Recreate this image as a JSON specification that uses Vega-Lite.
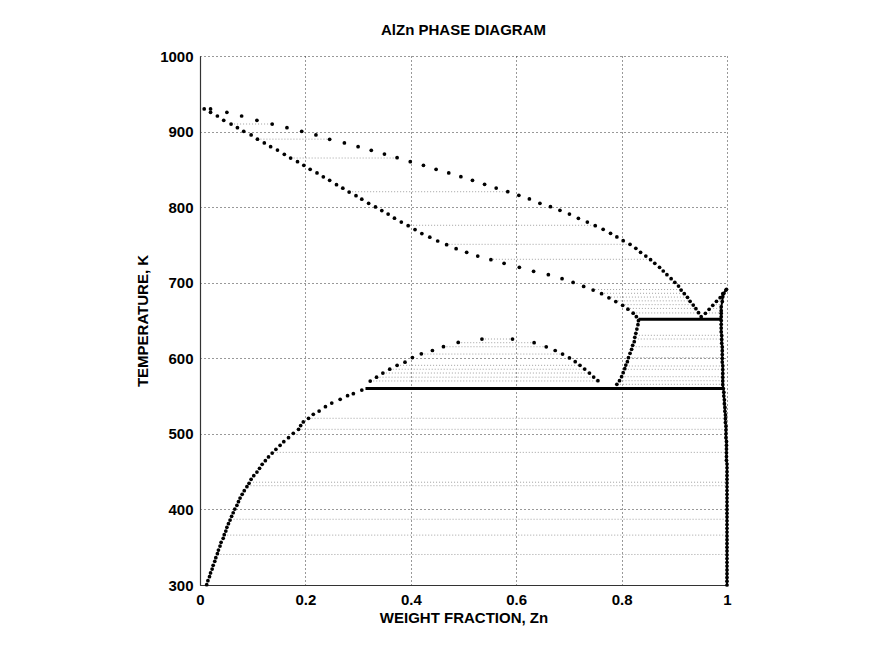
{
  "$schema": "https://vega.github.io/schema/vega-lite/v6.json",
  "width": 527,
  "height": 529,
  "autosize": {"type": "none"},
  "padding": {"left": 200, "top": 56, "right": 145, "bottom": 65},
  "background": "white",
  "title": {"text": "AlZn PHASE DIAGRAM", "font": "Liberation Sans", "fontSize": 15, "fontWeight": "bold", "anchor": "middle", "offset": 11, "color": "black"},
  "config": {
    "view": {"stroke": null},
    "axis": {
      "grid": true, "gridDash": [1, 3], "gridColor": "#333333", "gridWidth": 1, "gridOpacity": 1,
      "domainColor": "#333333", "domainWidth": 1.2, "ticks": false, "labelFlush": false,
      "labelFont": "Liberation Sans", "labelFontSize": 15, "labelFontWeight": "bold", "labelColor": "black", "labelPadding": 7,
      "titleFont": "Liberation Sans", "titleFontSize": 15, "titleFontWeight": "bold", "titleColor": "black"
    }
  },
  "datasets": {
    "pts": [
      {"c": "liq", "x": 0.008, "T": 930}, {"c": "liq", "x": 0.020, "T": 930}, {"c": "liq", "x": 0.051, "T": 925.5}, {"c": "liq", "x": 0.079, "T": 920.6},
      {"c": "liq", "x": 0.108, "T": 914.9}, {"c": "liq", "x": 0.137, "T": 910.0}, {"c": "liq", "x": 0.165, "T": 905.1}, {"c": "liq", "x": 0.193, "T": 900.4},
      {"c": "liq", "x": 0.220, "T": 895.5}, {"c": "liq", "x": 0.246, "T": 889.8}, {"c": "liq", "x": 0.274, "T": 884.9}, {"c": "liq", "x": 0.300, "T": 880.0},
      {"c": "liq", "x": 0.325, "T": 875.2}, {"c": "liq", "x": 0.350, "T": 870.3}, {"c": "liq", "x": 0.374, "T": 865.4}, {"c": "liq", "x": 0.399, "T": 860.1},
      {"c": "liq", "x": 0.424, "T": 855.4}, {"c": "liq", "x": 0.448, "T": 850.1}, {"c": "liq", "x": 0.472, "T": 845.2}, {"c": "liq", "x": 0.495, "T": 840.3},
      {"c": "liq", "x": 0.517, "T": 835.5}, {"c": "liq", "x": 0.540, "T": 830.2}, {"c": "liq", "x": 0.562, "T": 825.3}, {"c": "liq", "x": 0.584, "T": 820.4},
      {"c": "liq", "x": 0.605, "T": 815.7}, {"c": "liq", "x": 0.625, "T": 810.8}, {"c": "liq", "x": 0.645, "T": 805.1}, {"c": "liq", "x": 0.665, "T": 800.6},
      {"c": "liq", "x": 0.683, "T": 795.8}, {"c": "liq", "x": 0.701, "T": 790.9}, {"c": "liq", "x": 0.718, "T": 785.2}, {"c": "liq", "x": 0.735, "T": 780.3},
      {"c": "liq", "x": 0.750, "T": 775.4}, {"c": "liq", "x": 0.765, "T": 770.7}, {"c": "liq", "x": 0.779, "T": 765.4}, {"c": "liq", "x": 0.791, "T": 760.5},
      {"c": "liq", "x": 0.803, "T": 755.6}, {"c": "liq", "x": 0.816, "T": 750.8}, {"c": "liq", "x": 0.827, "T": 745.5}, {"c": "liq", "x": 0.836, "T": 740.2},
      {"c": "liq", "x": 0.846, "T": 735.3}, {"c": "liq", "x": 0.855, "T": 730.4}, {"c": "liq", "x": 0.863, "T": 725.7}, {"c": "liq", "x": 0.872, "T": 720.4},
      {"c": "liq", "x": 0.879, "T": 715.5}, {"c": "liq", "x": 0.886, "T": 710.6}, {"c": "liq", "x": 0.894, "T": 705.3}, {"c": "liq", "x": 0.901, "T": 700.5},
      {"c": "liq", "x": 0.908, "T": 695.6}, {"c": "liq", "x": 0.913, "T": 690.3}, {"c": "liq", "x": 0.919, "T": 685.5}, {"c": "liq", "x": 0.925, "T": 680.7},
      {"c": "liq", "x": 0.930, "T": 675.4}, {"c": "liq", "x": 0.936, "T": 670.5}, {"c": "liq", "x": 0.941, "T": 665.6}, {"c": "liq", "x": 0.946, "T": 660.3},
      {"c": "liq", "x": 0.951, "T": 655.0},
      {"c": "znliq", "x": 0.959, "T": 659.5}, {"c": "znliq", "x": 0.966, "T": 664.8}, {"c": "znliq", "x": 0.973, "T": 670.1}, {"c": "znliq", "x": 0.980, "T": 675.4},
      {"c": "znliq", "x": 0.987, "T": 680.2}, {"c": "znliq", "x": 0.992, "T": 685.5}, {"c": "znliq", "x": 0.998, "T": 690.3},
      {"c": "sol", "x": 0.020, "T": 925.5}, {"c": "sol", "x": 0.033, "T": 920.6}, {"c": "sol", "x": 0.045, "T": 914.9}, {"c": "sol", "x": 0.059, "T": 910.0},
      {"c": "sol", "x": 0.071, "T": 905.1}, {"c": "sol", "x": 0.083, "T": 900.4}, {"c": "sol", "x": 0.097, "T": 895.5}, {"c": "sol", "x": 0.109, "T": 889.9},
      {"c": "sol", "x": 0.122, "T": 884.9}, {"c": "sol", "x": 0.134, "T": 880.0}, {"c": "sol", "x": 0.147, "T": 875.6}, {"c": "sol", "x": 0.160, "T": 869.9},
      {"c": "sol", "x": 0.172, "T": 865.0}, {"c": "sol", "x": 0.185, "T": 860.1}, {"c": "sol", "x": 0.197, "T": 855.4}, {"c": "sol", "x": 0.209, "T": 850.1},
      {"c": "sol", "x": 0.222, "T": 845.2}, {"c": "sol", "x": 0.234, "T": 840.1}, {"c": "sol", "x": 0.246, "T": 835.5}, {"c": "sol", "x": 0.259, "T": 829.7},
      {"c": "sol", "x": 0.271, "T": 825.1}, {"c": "sol", "x": 0.283, "T": 820.0}, {"c": "sol", "x": 0.296, "T": 815.1}, {"c": "sol", "x": 0.307, "T": 810.5},
      {"c": "sol", "x": 0.320, "T": 805.1}, {"c": "sol", "x": 0.333, "T": 800.2}, {"c": "sol", "x": 0.345, "T": 795.5}, {"c": "sol", "x": 0.357, "T": 790.9},
      {"c": "sol", "x": 0.369, "T": 785.4}, {"c": "sol", "x": 0.382, "T": 780.3}, {"c": "sol", "x": 0.395, "T": 775.4}, {"c": "sol", "x": 0.408, "T": 770.4},
      {"c": "sol", "x": 0.421, "T": 765.1}, {"c": "sol", "x": 0.436, "T": 760.2}, {"c": "sol", "x": 0.451, "T": 755.2}, {"c": "sol", "x": 0.468, "T": 750.3},
      {"c": "sol", "x": 0.486, "T": 745.0}, {"c": "sol", "x": 0.506, "T": 740.2}, {"c": "sol", "x": 0.527, "T": 735.3}, {"c": "sol", "x": 0.552, "T": 730.4},
      {"c": "sol", "x": 0.577, "T": 725.7}, {"c": "sol", "x": 0.606, "T": 720.4}, {"c": "sol", "x": 0.633, "T": 715.1}, {"c": "sol", "x": 0.661, "T": 710.6},
      {"c": "sol", "x": 0.687, "T": 705.3}, {"c": "sol", "x": 0.708, "T": 700.3}, {"c": "sol", "x": 0.728, "T": 695.0}, {"c": "sol", "x": 0.746, "T": 690.3},
      {"c": "sol", "x": 0.762, "T": 685.5}, {"c": "sol", "x": 0.776, "T": 680.0}, {"c": "sol", "x": 0.789, "T": 675.1}, {"c": "sol", "x": 0.802, "T": 670.1},
      {"c": "sol", "x": 0.812, "T": 664.9}, {"c": "sol", "x": 0.822, "T": 659.6}, {"c": "sol", "x": 0.828, "T": 655.0},
      {"c": "eps", "x": 0.832, "T": 649.7}, {"c": "eps", "x": 0.831, "T": 644.4}, {"c": "eps", "x": 0.829, "T": 638.7}, {"c": "eps", "x": 0.827, "T": 633.1},
      {"c": "eps", "x": 0.825, "T": 627.8}, {"c": "eps", "x": 0.824, "T": 621.9}, {"c": "eps", "x": 0.821, "T": 617.2}, {"c": "eps", "x": 0.819, "T": 611.9},
      {"c": "eps", "x": 0.816, "T": 606.6}, {"c": "eps", "x": 0.813, "T": 600.8}, {"c": "eps", "x": 0.811, "T": 595.5}, {"c": "eps", "x": 0.808, "T": 591.1},
      {"c": "eps", "x": 0.806, "T": 586.2}, {"c": "eps", "x": 0.803, "T": 580.9}, {"c": "eps", "x": 0.800, "T": 575.6}, {"c": "eps", "x": 0.796, "T": 570.3},
      {"c": "eps", "x": 0.791, "T": 565.6},
      {"c": "dome", "x": 0.323, "T": 569.9}, {"c": "dome", "x": 0.335, "T": 575.0}, {"c": "dome", "x": 0.347, "T": 580.5}, {"c": "dome", "x": 0.360, "T": 585.6},
      {"c": "dome", "x": 0.374, "T": 590.7}, {"c": "dome", "x": 0.389, "T": 594.8}, {"c": "dome", "x": 0.403, "T": 601.0}, {"c": "dome", "x": 0.420, "T": 605.9},
      {"c": "dome", "x": 0.441, "T": 610.3}, {"c": "dome", "x": 0.462, "T": 615.3}, {"c": "dome", "x": 0.490, "T": 620.9}, {"c": "dome", "x": 0.535, "T": 625.5},
      {"c": "dome", "x": 0.593, "T": 625.5}, {"c": "dome", "x": 0.634, "T": 620.6}, {"c": "dome", "x": 0.657, "T": 615.2}, {"c": "dome", "x": 0.674, "T": 610.3},
      {"c": "dome", "x": 0.688, "T": 605.6}, {"c": "dome", "x": 0.701, "T": 600.4}, {"c": "dome", "x": 0.712, "T": 595.5}, {"c": "dome", "x": 0.721, "T": 590.7},
      {"c": "dome", "x": 0.730, "T": 585.8}, {"c": "dome", "x": 0.739, "T": 580.5}, {"c": "dome", "x": 0.747, "T": 575.2}, {"c": "dome", "x": 0.755, "T": 570.3},
      {"c": "solv", "x": 0.0127, "T": 300.4}, {"c": "solv", "x": 0.015, "T": 305.7}, {"c": "solv", "x": 0.018, "T": 311.0}, {"c": "solv", "x": 0.020, "T": 315.9},
      {"c": "solv", "x": 0.023, "T": 321.1}, {"c": "solv", "x": 0.025, "T": 326.0}, {"c": "solv", "x": 0.028, "T": 331.3}, {"c": "solv", "x": 0.030, "T": 336.1},
      {"c": "solv", "x": 0.033, "T": 341.4}, {"c": "solv", "x": 0.035, "T": 346.3}, {"c": "solv", "x": 0.038, "T": 351.6}, {"c": "solv", "x": 0.040, "T": 356.5},
      {"c": "solv", "x": 0.044, "T": 361.8}, {"c": "solv", "x": 0.046, "T": 366.5}, {"c": "solv", "x": 0.049, "T": 371.4}, {"c": "solv", "x": 0.051, "T": 376.3},
      {"c": "solv", "x": 0.054, "T": 381.1}, {"c": "solv", "x": 0.057, "T": 386.0}, {"c": "solv", "x": 0.060, "T": 390.9}, {"c": "solv", "x": 0.063, "T": 395.6},
      {"c": "solv", "x": 0.066, "T": 400.5}, {"c": "solv", "x": 0.070, "T": 405.4}, {"c": "solv", "x": 0.073, "T": 410.2}, {"c": "solv", "x": 0.076, "T": 415.1},
      {"c": "solv", "x": 0.080, "T": 420.0}, {"c": "solv", "x": 0.084, "T": 424.8}, {"c": "solv", "x": 0.089, "T": 430.1}, {"c": "solv", "x": 0.093, "T": 434.6},
      {"c": "solv", "x": 0.097, "T": 439.9}, {"c": "solv", "x": 0.102, "T": 444.6}, {"c": "solv", "x": 0.108, "T": 449.5}, {"c": "solv", "x": 0.113, "T": 454.4},
      {"c": "solv", "x": 0.118, "T": 459.7}, {"c": "solv", "x": 0.124, "T": 464.5}, {"c": "solv", "x": 0.130, "T": 469.4}, {"c": "solv", "x": 0.137, "T": 474.6},
      {"c": "solv", "x": 0.144, "T": 479.5}, {"c": "solv", "x": 0.152, "T": 484.8}, {"c": "solv", "x": 0.159, "T": 489.7}, {"c": "solv", "x": 0.168, "T": 494.9},
      {"c": "solv", "x": 0.177, "T": 500.7}, {"c": "solv", "x": 0.187, "T": 506.0}, {"c": "solv", "x": 0.191, "T": 511.0}, {"c": "solv", "x": 0.196, "T": 515.7}, {"c": "solv", "x": 0.206, "T": 520.6},
      {"c": "solv", "x": 0.215, "T": 525.9}, {"c": "solv", "x": 0.226, "T": 530.2}, {"c": "solv", "x": 0.238, "T": 535.9}, {"c": "solv", "x": 0.250, "T": 540.8},
      {"c": "solv", "x": 0.266, "T": 545.7}, {"c": "solv", "x": 0.280, "T": 550.5}, {"c": "solv", "x": 0.291, "T": 553.1}, {"c": "solv", "x": 0.307, "T": 558.0},
      {"c": "zn", "x": 0.999, "T": 691.3}, {"c": "zn", "x": 0.994, "T": 686.0}, {"c": "zn", "x": 0.992, "T": 681.5}, {"c": "zn", "x": 0.991, "T": 675.0},
      {"c": "zn", "x": 0.989, "T": 668.2}, {"c": "zn", "x": 0.989, "T": 663.0}, {"c": "zn", "x": 0.989, "T": 659.5}, {"c": "zn", "x": 0.989, "T": 655.0},
      {"c": "zn", "x": 0.989, "T": 650}, {"c": "zn", "x": 0.989, "T": 645}, {"c": "zn", "x": 0.989, "T": 640}, {"c": "zn", "x": 0.989, "T": 635},
      {"c": "zn", "x": 0.990, "T": 630}, {"c": "zn", "x": 0.990, "T": 625}, {"c": "zn", "x": 0.990, "T": 620}, {"c": "zn", "x": 0.991, "T": 615},
      {"c": "zn", "x": 0.991, "T": 610}, {"c": "zn", "x": 0.991, "T": 605}, {"c": "zn", "x": 0.991, "T": 600}, {"c": "zn", "x": 0.991, "T": 595},
      {"c": "zn", "x": 0.992, "T": 590}, {"c": "zn", "x": 0.992, "T": 585}, {"c": "zn", "x": 0.992, "T": 580}, {"c": "zn", "x": 0.992, "T": 575},
      {"c": "zn", "x": 0.992, "T": 570}, {"c": "zn", "x": 0.992, "T": 565}, {"c": "zn", "x": 0.993, "T": 560}, {"c": "zn", "x": 0.994, "T": 555},
      {"c": "zn", "x": 0.994, "T": 550}, {"c": "zn", "x": 0.995, "T": 545}, {"c": "zn", "x": 0.995, "T": 540}, {"c": "zn", "x": 0.996, "T": 535},
      {"c": "zn", "x": 0.996, "T": 530}, {"c": "zn", "x": 0.997, "T": 525}, {"c": "zn", "x": 0.997, "T": 520}, {"c": "zn", "x": 0.997, "T": 515},
      {"c": "zn", "x": 0.998, "T": 510}, {"c": "zn", "x": 0.998, "T": 505}, {"c": "zn", "x": 0.998, "T": 500}, {"c": "zn", "x": 0.998, "T": 495},
      {"c": "zn", "x": 0.999, "T": 490}, {"c": "zn", "x": 0.999, "T": 485}, {"c": "zn", "x": 0.999, "T": 480}, {"c": "zn", "x": 0.999, "T": 475},
      {"c": "zn", "x": 0.999, "T": 470}, {"c": "zn", "x": 0.999, "T": 465}, {"c": "zn", "x": 1.0, "T": 460}, {"c": "zn", "x": 1.0, "T": 455},
      {"c": "zn", "x": 1.0, "T": 450}, {"c": "zn", "x": 1.0, "T": 445}, {"c": "zn", "x": 1.0, "T": 440}, {"c": "zn", "x": 1.0, "T": 435},
      {"c": "zn", "x": 1.0, "T": 430}, {"c": "zn", "x": 1.0, "T": 425}, {"c": "zn", "x": 1.0, "T": 420}, {"c": "zn", "x": 1.0, "T": 415},
      {"c": "zn", "x": 1.0, "T": 410}, {"c": "zn", "x": 1.0, "T": 405}, {"c": "zn", "x": 1.0, "T": 400}, {"c": "zn", "x": 1.0, "T": 395},
      {"c": "zn", "x": 1.0, "T": 390}, {"c": "zn", "x": 1.0, "T": 385}, {"c": "zn", "x": 1.0, "T": 380}, {"c": "zn", "x": 1.0, "T": 375},
      {"c": "zn", "x": 1.0, "T": 370}, {"c": "zn", "x": 1.0, "T": 365}, {"c": "zn", "x": 1.0, "T": 360}, {"c": "zn", "x": 1.0, "T": 355},
      {"c": "zn", "x": 1.0, "T": 350}, {"c": "zn", "x": 1.0, "T": 345}, {"c": "zn", "x": 1.0, "T": 340}, {"c": "zn", "x": 1.0, "T": 335},
      {"c": "zn", "x": 1.0, "T": 330}, {"c": "zn", "x": 1.0, "T": 325}, {"c": "zn", "x": 1.0, "T": 320}, {"c": "zn", "x": 1.0, "T": 315},
      {"c": "zn", "x": 1.0, "T": 310}, {"c": "zn", "x": 1.0, "T": 305}, {"c": "zn", "x": 1.0, "T": 300}
    ],
    "thick": [
      {"x": 0.314, "x2": 0.992, "T": 560},
      {"x": 0.832, "x2": 0.989, "T": 651.5}
    ],
    "ties": [
      {"x": 0.059, "x2": 0.137, "T": 910}, {"x": 0.109, "x2": 0.246, "T": 890}, {"x": 0.172, "x2": 0.374, "T": 865},
      {"x": 0.283, "x2": 0.584, "T": 820.4}, {"x": 0.393, "x2": 0.750, "T": 776}, {"x": 0.466, "x2": 0.816, "T": 750.8},
      {"x": 0.550, "x2": 0.855, "T": 731}, {"x": 0.744, "x2": 0.912, "T": 691}, {"x": 0.761, "x2": 0.919, "T": 686},
      {"x": 0.774, "x2": 0.924, "T": 681}, {"x": 0.787, "x2": 0.929, "T": 676}, {"x": 0.800, "x2": 0.935, "T": 671},
      {"x": 0.810, "x2": 0.940, "T": 666}, {"x": 0.822, "x2": 0.946, "T": 660},
      {"x": 0.980, "x2": 0.991, "T": 676}, {"x": 0.973, "x2": 0.990, "T": 671}, {"x": 0.968, "x2": 0.989, "T": 666}, {"x": 0.960, "x2": 0.989, "T": 660},
      {"x": 0.535, "x2": 0.593, "T": 625.5}, {"x": 0.490, "x2": 0.634, "T": 620.6}, {"x": 0.462, "x2": 0.657, "T": 615.3},
      {"x": 0.420, "x2": 0.688, "T": 605.6}, {"x": 0.374, "x2": 0.721, "T": 590.7}, {"x": 0.360, "x2": 0.730, "T": 585.5},
      {"x": 0.347, "x2": 0.739, "T": 580.5}, {"x": 0.335, "x2": 0.747, "T": 575}, {"x": 0.323, "x2": 0.755, "T": 570},
      {"x": 0.827, "x2": 0.990, "T": 630.4}, {"x": 0.825, "x2": 0.990, "T": 625.5}, {"x": 0.821, "x2": 0.991, "T": 615.3},
      {"x": 0.813, "x2": 0.991, "T": 600.8}, {"x": 0.808, "x2": 0.992, "T": 589.8}, {"x": 0.806, "x2": 0.992, "T": 585.4},
      {"x": 0.800, "x2": 0.992, "T": 575.6}, {"x": 0.796, "x2": 0.992, "T": 570.3}, {"x": 0.791, "x2": 0.992, "T": 565.6},
      {"x": 0.206, "x2": 0.997, "T": 520.6}, {"x": 0.187, "x2": 0.998, "T": 506}, {"x": 0.140, "x2": 0.999, "T": 475.5},
      {"x": 0.095, "x2": 0.999, "T": 436}, {"x": 0.090, "x2": 0.999, "T": 431.4}, {"x": 0.058, "x2": 1.0, "T": 387},
      {"x": 0.046, "x2": 1.0, "T": 366}, {"x": 0.033, "x2": 1.0, "T": 340.4}
    ]
  },
  "layer": [
    {
      "data": {"name": "ties"},
      "mark": {"type": "rule", "color": "#a0a0a0", "strokeDash": [1, 2], "strokeWidth": 1},
      "encoding": {
        "x": {"field": "x", "type": "quantitative", "scale": {"domain": [0, 1], "nice": false, "zero": false},
              "axis": {"values": [0, 0.2, 0.4, 0.6, 0.8, 1], "format": "~g", "title": "WEIGHT FRACTION, Zn", "titlePadding": 3}},
        "x2": {"field": "x2"},
        "y": {"field": "T", "type": "quantitative", "scale": {"domain": [300, 1000], "nice": false, "zero": false},
              "axis": {"values": [300, 400, 500, 600, 700, 800, 900, 1000], "format": "d", "title": "TEMPERATURE, K", "titlePadding": 9}}
      }
    },
    {
      "data": {"name": "thick"},
      "mark": {"type": "rule", "color": "black", "strokeWidth": 3},
      "encoding": {
        "x": {"field": "x", "type": "quantitative"},
        "x2": {"field": "x2"},
        "y": {"field": "T", "type": "quantitative"}
      }
    },
    {
      "data": {"name": "pts"},
      "transform": [{"filter": "datum.c === 'zn'"}],
      "mark": {"type": "line", "color": "black", "strokeWidth": 2},
      "encoding": {
        "x": {"field": "x", "type": "quantitative"},
        "y": {"field": "T", "type": "quantitative"},
        "order": {"field": "T", "sort": "descending"}
      }
    },
    {
      "data": {"name": "pts"},
      "mark": {"type": "point", "filled": true, "shape": "circle", "size": 14, "color": "black", "opacity": 1},
      "encoding": {
        "x": {"field": "x", "type": "quantitative"},
        "y": {"field": "T", "type": "quantitative"}
      }
    }
  ]
}
